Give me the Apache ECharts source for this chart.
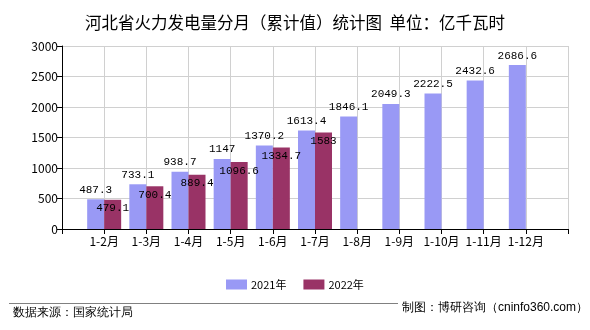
<!DOCTYPE html>
<html>
<head>
<meta charset="utf-8">
<script src="https://cdn.jsdelivr.net/npm/echarts@6/dist/echarts.min.js"></script>
<style>html,body{margin:0;padding:0;background:#fff}#c{width:590px;height:330px}</style>
</head>
<body>
<div id="c"></div>
<script>
const categories = ['1-2月','1-3月','1-4月','1-5月','1-6月','1-7月','1-8月','1-9月','1-10月','1-11月','1-12月'];
const values2021 = [487.3, 733.1, 938.7, 1147, 1370.2, 1613.4, 1846.1, 2049.3, 2222.5, 2432.6, 2686.6];
const values2022 = [479.1, 700.4, 889.4, 1096.6, 1334.7, 1583];
const yTicks = [0, 500, 1000, 1500, 2000, 2500, 3000];

const axisCats = [''].concat(categories, ['']);
const pad = (arr) => { const out = [null].concat(arr); while (out.length < axisCats.length) out.push(null); return out; };

const chart = echarts.init(document.getElementById('c'), null, {renderer: 'canvas'});
const labelFont = 'SimSun, "Liberation Mono", monospace';
chart.setOption({
  animation: false,
  backgroundColor: '#ffffff',
  textStyle: {fontFamily: '"Noto Sans CJK SC", sans-serif'},
  title: {
    text: '河北省火力发电量分月（累计值）统计图  单位：亿千瓦时',
    left: 'center', top: 9,
    textStyle: {fontSize: 16.5, fontWeight: 'normal', color: '#000', fontFamily: '"Noto Sans CJK SC", sans-serif'}
  },
  legend: {
    left: 221, top: 274, itemWidth: 21, itemHeight: 10, itemGap: 17,
    icon: 'rect',
    textStyle: {fontSize: 11, color: '#000', padding: [0,0,0,-1]},
    data: ['2021年', '2022年']
  },
  grid: {left: 62, right: 22, top: 46, bottom: 101, containLabel: false},
  xAxis: {
    type: 'category', data: axisCats, boundaryGap: false,
    axisLine: {lineStyle: {color: '#000', width: 1}},
    axisTick: {show: true, length: 5, lineStyle: {color: '#000'}},
    axisLabel: {interval: 0, fontSize: 12, color: '#000', margin: 6},
    splitLine: {show: true, lineStyle: {color: '#d0d0d0'}}
  },
  yAxis: {
    type: 'value', min: yTicks[0], max: yTicks[yTicks.length-1], interval: 500,
    axisLine: {show: true, lineStyle: {color: '#000', width: 1}},
    axisTick: {show: true, length: 5, lineStyle: {color: '#000'}},
    axisLabel: {fontSize: 12, color: '#000', margin: 4, formatter: (v) => String(v)},
    splitLine: {show: true, lineStyle: {color: '#d0d0d0'}}
  },
  series: [
    {
      name: '2021年', type: 'bar', data: pad(values2021), barWidth: 17, barGap: '0%',
      itemStyle: {color: '#9999f5'},
      label: {show: true, position: 'top', distance: 4, color: '#000', fontSize: 11, fontFamily: labelFont}
    },
    {
      name: '2022年', type: 'bar', data: pad(values2022), barWidth: 17, barGap: '0%',
      itemStyle: {color: '#993366'},
      label: {show: true, position: 'insideTop', distance: 3, color: '#000', fontSize: 11, fontFamily: labelFont}
    }
  ],
  graphic: [
    {type: 'line', shape: {x1: 9, y1: 303.5, x2: 398, y2: 303.5}, style: {stroke: '#808080', lineWidth: 1}},
    {type: 'text', left: 13, top: 307, style: {text: '数据来源：国家统计局', fontSize: 12, fill: '#000', font: '12px "Noto Sans CJK SC", sans-serif'}},
    {type: 'text', right: 2, top: 302, style: {text: '制图：博研咨询（cninfo360.com）', fontSize: 12, fill: '#000', font: '12px "Noto Sans CJK SC", sans-serif'}}
  ]
});
</script>
</body>
</html>
